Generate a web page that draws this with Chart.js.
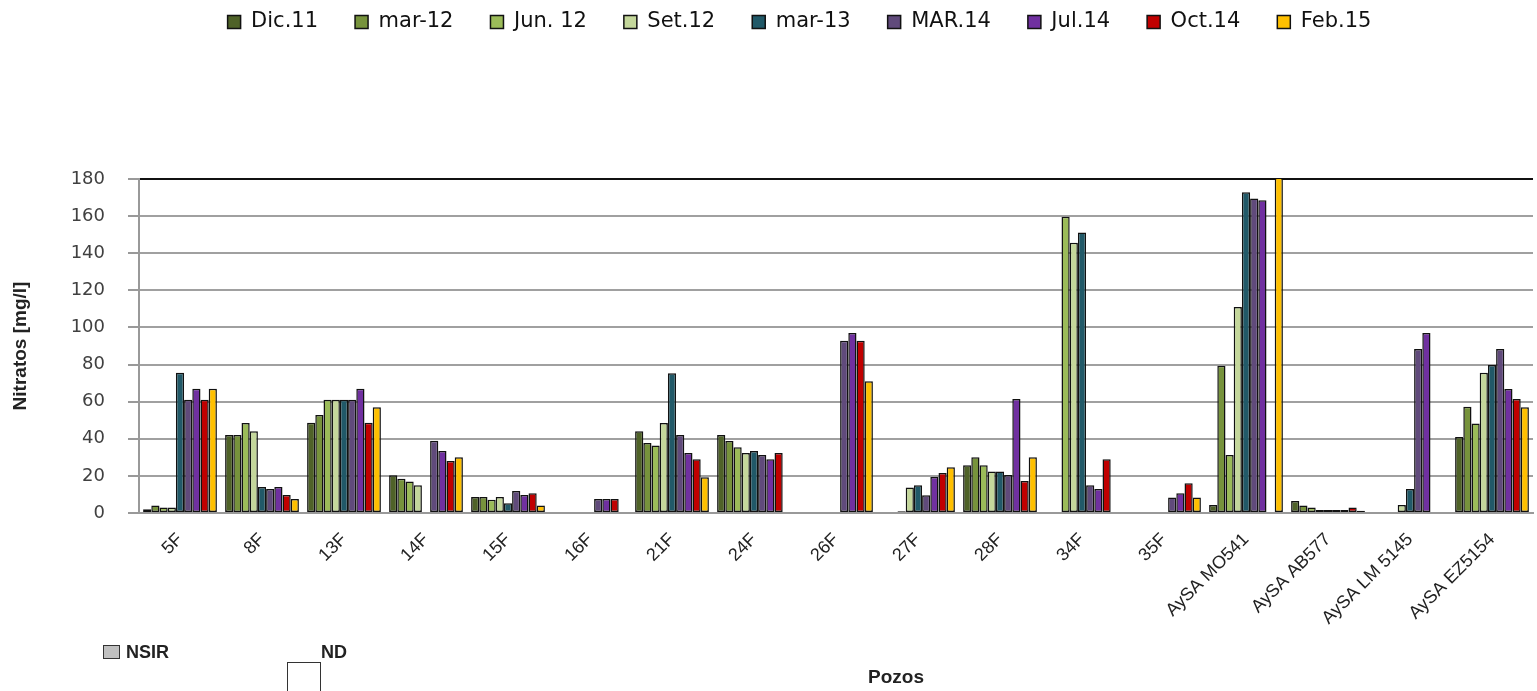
<!DOCTYPE html>
<html><head><meta charset="utf-8">
<script src="https://cdn.jsdelivr.net/npm/chart.js@4.4.1/dist/chart.umd.min.js"></script>
<style>
html,body{margin:0;padding:0;background:#fff;}
#wrap{position:relative;width:1537px;height:691px;overflow:hidden;}
canvas{display:block;}
.lbl{position:absolute;font-family:"Liberation Sans Narrow","Liberation Sans",sans-serif;font-weight:bold;font-size:18px;color:#222;line-height:18px;}
.bx{position:absolute;box-sizing:border-box;}
</style></head><body>
<div id="wrap">
<canvas id="c" width="1537" height="691"></canvas>
<div class="bx" style="left:103px;top:645px;width:17px;height:14px;background:#c0c0c0;border:1.5px solid #333;"></div>
<div class="lbl" style="left:126px;top:643px;">NSIR</div>
<div class="bx" style="left:287px;top:662px;width:34px;height:30px;background:#fff;border:1.5px solid #333;"></div>
<div class="lbl" style="left:321px;top:643px;">ND</div>
<div class="lbl" style="left:868px;top:668px;font-size:19px;">Pozos</div>
</div>
<script>
const categories = ['5F','8F','13F','14F','15F','16F','21F','24F','26F','27F','28F','34F','35F','AySA MO541','AySA AB577','AySA LM 5145','AySA EZ5154'];
const seriesNames = ['Dic.11','mar-12','Jun. 12','Set.12','mar-13','MAR.14','Jul.14','Oct.14','Feb.15'];
const dic11 = [2, 42, 48.7, 20.3, 8.6, null, 44, 42, null, null, 25.7, null, null, 4.3, 6.5, null, 41];
const mar12 = [4, 42, 52.8, 18.5, 8.6, null, 37.7, 38.8, null, null, 30, null, null, 79.4, 4.1, null, 57.3];
const jun12 = [3, 48.5, 61, 17, 7.2, null, 36.4, 35.4, null, 1, 25.7, 159.7, null, 31.2, 2.9, null, 48.3];
const set12 = [3, 44, 61, 15, 8.6, null, 48.5, 32.3, null, 13.8, 22.4, 145.6, null, 111, 1.6, 4.3, 75.6];
const mar13 = [75.6, 14, 61, null, 5.2, null, 75.3, 33.4, null, 15, 22.4, 151.2, null, 172.8, 1.6, 13, 79.7];
const mar14 = [61, 13, 61, 39, 11.8, 7.5, 42, 31.2, 92.8, 9.5, 20.5, 15, 8.4, 169.5, 1.6, 88.4, 88.4];
const jul14 = [67, 14, 67, 33.4, 9.7, 7.5, 32.3, 29, 97, 19.4, 61.4, 13, 10.6, 168.6, 1.6, 97, 66.8];
const oct14 = [61, 9.7, 48.7, 28, 10.6, 7.5, 29, 32.3, 92.8, 21.5, 17.2, 29, 16, null, 3, null, 61.4];
const feb15 = [67, 7.5, 57, 30, 4.1, null, 19.2, null, 71, 24.6, 30, null, 8.3, 200, 1.2, null, 57];
const yTicks = [0,20,40,60,80,100,120,140,160,180];

const seriesValues = [dic11, mar12, jun12, set12, mar13, mar14, jul14, oct14, feb15];
const colors = ['#4f6228','#77933c','#9bbb59','#c4d79b','#215968','#604a7b','#7030a0','#c00000','#ffc000'];

const datasets = seriesNames.map((n,i)=>({
  label:n, data:seriesValues[i], backgroundColor:colors[i], borderColor:'#111', borderWidth:1.5,
  borderSkipped:false, categoryPercentage:0.9, barPercentage:1.0,
  clip:{left:false, right:false, bottom:false, top:0}
}));

const LEG_FONT = 21, LEG_PAD = 37;
const legendLayout = {
  id:'legendLayout',
  beforeInit(chart){
    const lg = chart.legend; const fit = lg.fit;
    lg.fit = function(){ fit.call(this); this.height = 179; };
  },
  afterLayout(chart){
    const lg = chart.legend;
    lg.left += 33; lg.right += 33;
    lg.top = 22 - LEG_PAD - LEG_FONT/2;
  }
};

new Chart(document.getElementById('c'), {
  type:'bar',
  data:{labels:categories, datasets},
  plugins:[legendLayout],
  options:{
    responsive:false, animation:false, devicePixelRatio:1,
    layout:{padding:{left:0,right:4,top:0,bottom:0}},
    plugins:{
      legend:{position:'top', labels:{boxWidth:13, boxHeight:13, padding:LEG_PAD, color:'#111',
        font:{family:'"DejaVu Sans", sans-serif', size:LEG_FONT}}},
      tooltip:{enabled:false}
    },
    scales:{
      x:{
        grid:{display:false, drawTicks:false},
        border:{display:true, color:'#999', width:2},
        ticks:{minRotation:45, maxRotation:45, autoSkip:false, color:'#222', padding:16,
          font:{family:'"Liberation Sans", sans-serif', size:18}},
        title:{display:false},
        afterFit(s){ s.height = 178; }
      },
      y:{
        min:0, max:180,
        afterBuildTicks(s){ s.ticks = yTicks.map(v=>({value:v})); },
        ticks:{color:'#404040', padding:23, font:{family:'"DejaVu Sans", sans-serif', size:18}},
        grid:{color:(c)=> c.tick && c.tick.value===180 ? '#111' : '#a0a0a0', lineWidth:2,
          tickLength:11, tickColor:'#999', drawTicks:true},
        border:{display:true, color:'#999', width:2},
        title:{display:true, text:'Nitratos [mg/l]', color:'#222',
          font:{family:'"Liberation Sans Narrow","Liberation Sans", sans-serif', size:19, weight:'bold'},
          padding:{top:9,bottom:0}},
        afterFit(s){ s.width = 139; }
      }
    }
  }
});
</script>
</body></html>
